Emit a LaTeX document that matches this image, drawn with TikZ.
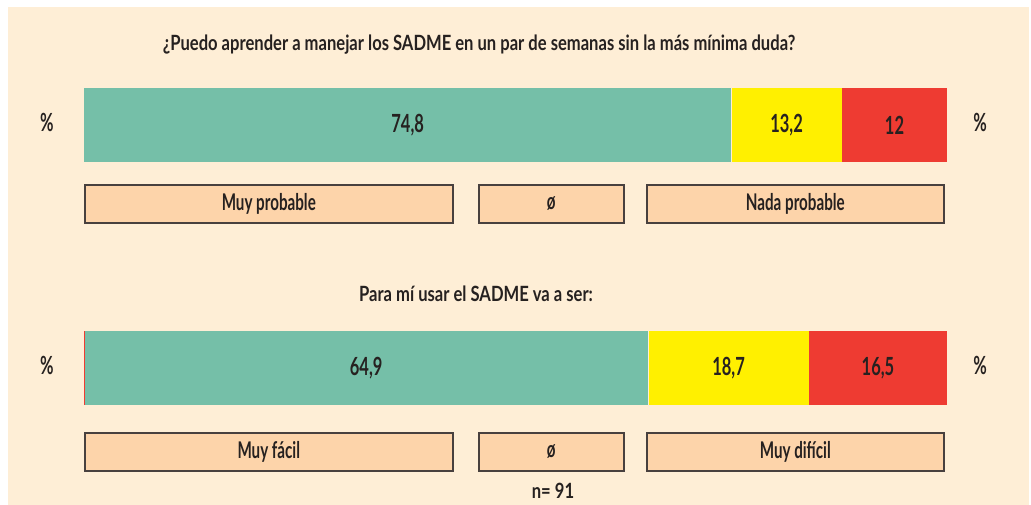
\documentclass[tikz,border=0pt]{standalone}
\usepackage{fontspec}
\setmainfont{Lato}[FakeStretch=0.66]
\newfontfamily\qfont{Lato}[FakeStretch=0.79]
\usetikzlibrary{positioning}
\definecolor{bgbeige}{RGB}{254,238,214}
\definecolor{barGreen}{RGB}{117,191,168}
\definecolor{barYellow}{RGB}{255,240,0}
\definecolor{barRed}{RGB}{238,59,50}
\definecolor{boxfill}{RGB}{253,212,170}
\definecolor{boxline}{RGB}{72,64,62}
\definecolor{txtdark}{RGB}{38,33,32}
\tikzset{
seg/.style = {rectangle, inner sep=0pt, minimum height=74pt, anchor=north west, text=txtdark, font=\fontsize{25}{25}\selectfont\bfseries},
catbox/.style = {draw=boxline, line width=1.6pt, fill=boxfill, rectangle, inner sep=0pt, minimum height=38pt, anchor=north west, text=txtdark, font=\fontsize{23}{23}\selectfont\bfseries},
pct/.style = {text=txtdark, font=\fontsize{25}{25}\selectfont\bfseries},
question/.style = {text=txtdark, font=\qfont\fontsize{21}{21}\selectfont\bfseries}
}

\begin{document}
\begin{tikzpicture}[x=1pt, y=-1pt, node distance=0pt]
    \useasboundingbox (0,0) rectangle (1031,505);
    \fill [bgbeige] (8,7) rectangle (1029,505);
    % first question
    \node [question] (q1) at (479,45) {¿Puedo aprender a manejar los SADME en un par de semanas sin la más mínima duda?};
    \node [seg, fill=barGreen, minimum width=647pt] (g1) at (84,88) {74,8};
    \node [seg, fill=barYellow, minimum width=110pt, right=of g1] (y1) {13,2};
    \node [seg, fill=barRed, minimum width=105pt, right=of y1] (r1) {12};
    \node [pct] (pl1) at (47,122) {\%};
    \node [pct] (pr1) at (980,122) {\%};
    \node [catbox, minimum width=368pt] (a1) at (84,184) {Muy probable};
    \node [catbox, minimum width=145pt] (b1) at (478,184) {ø};
    \node [catbox, minimum width=297pt] (c1) at (646,184) {Nada probable};
    % second question
    \node [question] (q2) at (476,294) {Para mí usar el SADME va a ser:};
    \node [seg, fill=barGreen, minimum width=564pt] (g2) at (84,331) {64,9};
    \node [seg, fill=barYellow, minimum width=160pt, right=of g2] (y2) {18,7};
    \node [seg, fill=barRed, minimum width=138pt, right=of y2] (r2) {16,5};
    \draw [barRed, line width=1pt] (g2.north west) -- (g2.south west);
    \node [pct] (pl2) at (47,365) {\%};
    \node [pct] (pr2) at (980,365) {\%};
    \node [catbox, minimum width=368pt] (a2) at (84,432) {Muy fácil};
    \node [catbox, minimum width=145pt] (b2) at (478,432) {ø};
    \node [catbox, minimum width=297pt] (c2) at (646,432) {Muy difícil};
    \node [question] (n) at (553,491) {n= 91};
\end{tikzpicture}
\end{document}
